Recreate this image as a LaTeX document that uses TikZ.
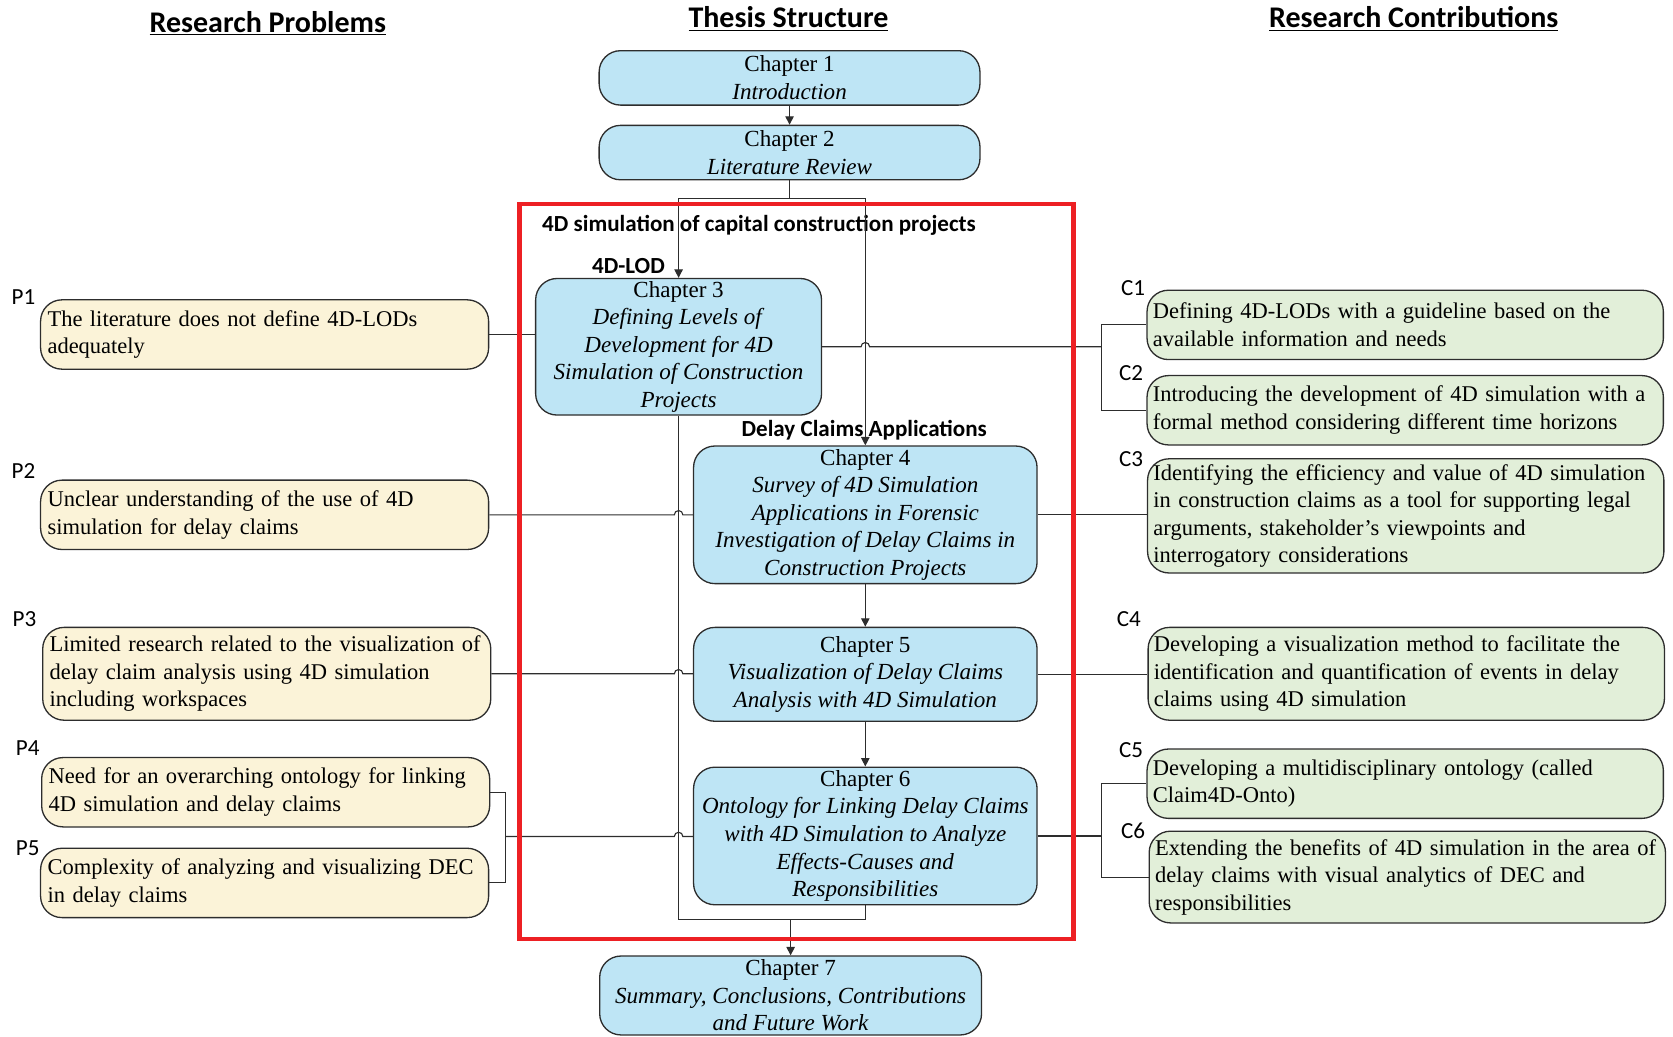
\documentclass[tikz,border=0pt]{standalone}
\usepackage{fontspec}
\setmainfont{Liberation Serif}
\newfontfamily\calibri{Carlito}
\usetikzlibrary{arrows.meta,calc}

\definecolor{chapblue}{RGB}{190,229,245}
\definecolor{probcream}{RGB}{251,243,216}
\definecolor{contgreen}{RGB}{226,239,217}
\definecolor{framered}{RGB}{237,32,36}
\definecolor{boxline}{RGB}{45,45,45}

\begin{document}
\begin{tikzpicture}[x=0.02cm,y=-0.02cm,
    chap/.style={rectangle, draw=boxline, line width=0.7pt, fill=chapblue, rounded corners=0.4cm,
        align=center, inner sep=0pt, font=\fontsize{12.3}{14.7}\selectfont},
    prob/.style={rectangle, draw=boxline, line width=0.7pt, fill=probcream, rounded corners=0.4cm,
        text width=8.14cm, align=left, inner xsep=0.13cm, inner ysep=0pt, minimum height=1.3cm,
        font=\fontsize{12}{14.7}\selectfont},
    contr/.style={rectangle, draw=boxline, line width=0.7pt, fill=contgreen, rounded corners=0.4cm,
        text width=9.46cm, align=left, inner xsep=0.11cm, inner ysep=0pt, minimum height=1.3cm,
        font=\fontsize{12}{14.7}\selectfont},
    tag/.style={font=\calibri\fontsize{12.3}{14}\selectfont},
    head/.style={font=\calibri\bfseries\fontsize{16}{19}\selectfont},
    group/.style={font=\calibri\bfseries\fontsize{12.3}{14}\selectfont},
    link/.style={draw=boxline, line width=0.6pt},
    flow/.style={link, -{Triangle[length=4.5pt,width=4.5pt]}},
    frame/.style={draw=framered, line width=2.3pt}
]
\useasboundingbox (0,0) rectangle (1568,971);

% headings
\node[head] (hProb) at (251,22) {\underline{Research Problems}};
\node[head] (hThesis) at (739,18) {\underline{Thesis Structure}};
\node[head] (hContr) at (1325,18) {\underline{Research Contributions}};

% thesis chapters
\node (Ch1) [chap, minimum width=7.14cm, minimum height=1.02cm] at (740,73) {Chapter 1\\\textit{Introduction}};
\node (Ch2) [chap, minimum width=7.14cm, minimum height=1.02cm] at (740,143) {Chapter 2\\\textit{Literature Review}};
\node (Ch3) [chap, minimum width=5.36cm, minimum height=2.56cm] at (636,325) {Chapter 3\\\textit{Defining Levels of}\\\textit{Development for 4D}\\\textit{Simulation of Construction}\\\textit{Projects}};
\node (Ch4) [chap, minimum width=6.44cm, minimum height=2.58cm] at (811,482.5) {Chapter 4\\\textit{Survey of 4D Simulation}\\\textit{Applications in Forensic}\\\textit{Investigation of Delay Claims in}\\\textit{Construction Projects}};
\node (Ch5) [chap, minimum width=6.44cm, minimum height=1.76cm] at (811,632) {Chapter 5\\\textit{Visualization of Delay Claims}\\\textit{Analysis with 4D Simulation}};
\node (Ch6) [chap, minimum width=6.44cm, minimum height=2.58cm] at (811,783.5) {Chapter 6\\\textit{Ontology for Linking Delay Claims}\\\textit{with 4D Simulation to Analyze}\\\textit{Effects-Causes and}\\\textit{Responsibilities}};
\node (Ch7) [chap, minimum width=7.16cm, minimum height=1.48cm] at (741,933) {Chapter 7\\\textit{Summary, Conclusions, Contributions}\\\textit{and Future Work}};

% research problems
\node (P1) [prob] at (248,313.5) {The literature does not define 4D-LODs\\adequately};
\node (P2) [prob] at (248,482.5) {Unclear understanding of the use of 4D\\simulation for delay claims};
\node (P3) [prob, minimum height=1.74cm] at (250,631.5) {Limited research related to the visualization of\\delay claim analysis using 4D simulation\\including workspaces};
\node (P4) [prob] at (249,742.5) {Need for an overarching ontology for linking\\4D simulation and delay claims};
\node (P5) [prob] at (248,827.5) {Complexity of analyzing and visualizing DEC\\in delay claims};
\node[tag] (tP1) at (22,278) {P1};
\node[tag] (tP2) at (22,441) {P2};
\node[tag] (tP3) at (23,580) {P3};
\node[tag] (tP4) at (26,701) {P4};
\node[tag] (tP5) at (26,795) {P5};

% research contributions
\node (C1) [contr] at (1317,304.5) {Defining 4D-LODs with a guideline based on the\\available information and needs};
\node (C2) [contr] at (1317,384.5) {Introducing the development of 4D simulation with a\\formal method considering different time horizons};
\node (C3) [contr, minimum height=2.14cm] at (1317.5,483.5) {Identifying the efficiency and value of 4D simulation\\in construction claims as a tool for supporting legal\\arguments, stakeholder's viewpoints and\\interrogatory considerations};
\node (C4) [contr, minimum height=1.74cm] at (1318,631.5) {Developing a visualization method to facilitate the\\identification and quantification of events in delay\\claims using 4D simulation};
\node (C5) [contr] at (1317,734.5) {Developing a multidisciplinary ontology (called\\Claim4D-Onto)};
\node (C6) [contr, minimum height=1.72cm] at (1319,822) {Extending the benefits of 4D simulation in the area of\\delay claims with visual analytics of DEC and\\responsibilities};
\node[tag] (tC1) at (1062,270) {C1};
\node[tag] (tC2) at (1060,350) {C2};
\node[tag] (tC3) at (1060,430) {C3};
\node[tag] (tC4) at (1058,580) {C4};
\node[tag] (tC5) at (1060,703) {C5};
\node[tag] (tC6) at (1062,779) {C6};

% group labels
\node[group, anchor=west] (g4D) at (502,211) {4D simulation of capital construction projects};
\node[group] (gLOD) at (589,249) {4D-LOD};
\node[group] (gDelay) at (810,403) {Delay Claims Applications};

% junctions
\coordinate (split) at (740,186);
\coordinate (merge) at (741,862);
\coordinate (jL) at (474,784);
\coordinate (jR1) at (1032,325);
\coordinate (jR2) at (1032,783.5);

% chapter flow
\draw[flow] (Ch1) -- (Ch2);
\draw[link] (Ch2.south) -- (split);
\draw[flow] (split) -| (Ch3.north);
\draw[flow] (split) -| (Ch4.north);
\draw[flow] (Ch4) -- (Ch5);
\draw[flow] (Ch5) -- (Ch6);
\draw[link] (Ch3.south) |- (merge);
\draw[link] (Ch6.south) |- (merge);
\draw[flow] (merge) -- (Ch7.north);

% problems to chapters
\draw[link] (P1.east) -- (P1.east -| Ch3.west);
\draw[link] (P2.east) -- ($(Ch3.south |- P2.east)+(-4,0)$) arc[start angle=180,end angle=0,radius=0.08cm] -- (Ch4.west);
\draw[link] (P3.east) -- ($(Ch3.south |- P3.east)+(-4,0)$) arc[start angle=180,end angle=0,radius=0.08cm] -- (P3.east -| Ch5.west);
\draw[link] (P4.east) -| (jL);
\draw[link] (P5.east) -| (jL);
\draw[link] (jL) -- ($(Ch3.south |- jL)+(-4,0)$) arc[start angle=180,end angle=0,radius=0.08cm] -- (jL -| Ch6.west);

% chapters to contributions
\draw[link] (Ch3.east) -- ($(Ch4.north |- Ch3.east)+(-4,0)$) arc[start angle=180,end angle=0,radius=0.08cm] -- (jR1);
\draw[link] (jR1) |- (C1.west);
\draw[link] (jR1) |- (C2.west);
\draw[link] (Ch4.east) -- (Ch4.east -| C3.west);
\draw[link] (Ch5.east) -- (Ch5.east -| C4.west);
\draw[link] (Ch6.east) -- (jR2);
\draw[link] (jR2) |- (C5.west);
\draw[link] (jR2) |- (C6.west);

% red frame
\draw[frame] (487,191) rectangle (1006,880);
\end{tikzpicture}
\end{document}
